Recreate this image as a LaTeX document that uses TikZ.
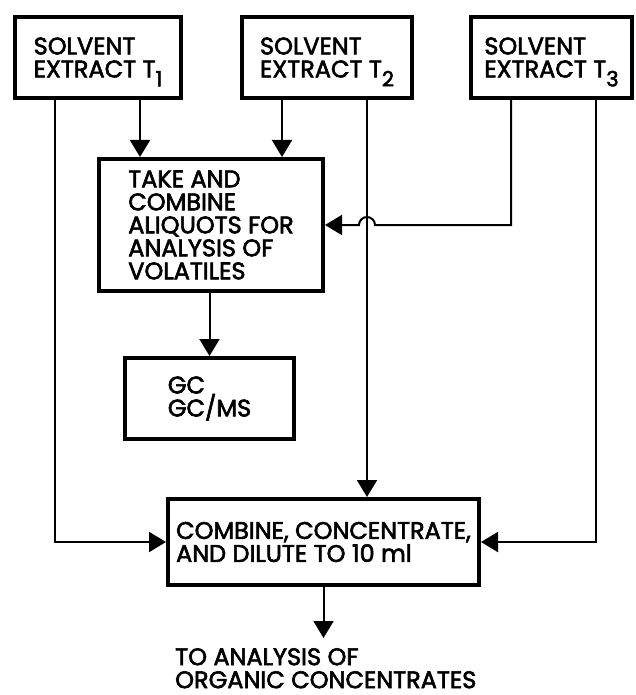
\documentclass[tikz,border=0pt]{standalone}
\usepackage{fontspec}
\setmainfont{Poppins}[FakeBold=2.5]
\usetikzlibrary{arrows.meta}
\newcommand{\lowsub}[1]{\raisebox{-9pt}[0pt][0pt]{\fontsize{21}{21}\selectfont #1}}

\begin{document}
\begin{tikzpicture}[
        x=1pt,y=-1pt,
        every node/.style={font=\fontsize{24}{23}\selectfont,align=left,inner sep=0pt},
        box/.style={draw,rectangle,line width=4pt},
        arr/.style={-{Triangle[length=17pt,width=20pt]},line width=2pt}
    ]
        \useasboundingbox (0,0) rectangle (636,695);

        \node[box,minimum width=166pt,minimum height=81pt] (t1) at (98,57.5) {SOLVENT\\EXTRACT T\lowsub{1}};
        \node[box,minimum width=170pt,minimum height=81pt] (t2) at (327,57.5) {SOLVENT\\EXTRACT T\lowsub{2}};
        \node[box,minimum width=161pt,minimum height=81pt] (t3) at (551.5,57.5) {SOLVENT\\EXTRACT T\lowsub{3}};
        \node[box,minimum width=224pt,minimum height=132pt] (take) at (211,225) {TAKE AND\\COMBINE\\ALIQUOTS FOR\\ANALYSIS OF\\VOLATILES};
        \node[box,minimum width=169pt,minimum height=81pt] (gc) at (209.5,398.5) {GC\\GC/MS};
        \node[box,minimum width=311pt,minimum height=86pt] (comb) at (323.5,542) {COMBINE, CONCENTRATE,\\AND DILUTE TO 10 ml};
        \node[anchor=north west] (out) at (175,648) {TO ANALYSIS OF\\ORGANIC CONCENTRATES};

        % columns of the connectors
        \coordinate (xa) at (55,0);
        \coordinate (xb) at (140,0);
        \coordinate (xc) at (282,0);
        \coordinate (xd) at (367,0);
        \coordinate (xe) at (511,0);
        \coordinate (xf) at (596,0);
        \coordinate (hop) at (375,225);
        \coordinate (outtip) at (323.5,638);

        \draw[arr] (t1.south -| xa) |- (comb.west);
        \draw[arr] (t1.south -| xb) -- (take.north -| xb);
        \draw[arr] (t2.south -| xc) -- (take.north -| xc);
        \draw[arr] (t2.south -| xd) -- (comb.north -| xd);
        \draw[arr] (t3.south -| xe) |- (hop) arc[start angle=0,end angle=180,radius=8pt] -- (take.east);
        \draw[arr] (t3.south -| xf) |- (comb.east);
        \draw[arr] (take.south -| gc.north) -- (gc.north);
        \draw[arr] (comb.south) -- (outtip);
    \end{tikzpicture}
\end{document}
